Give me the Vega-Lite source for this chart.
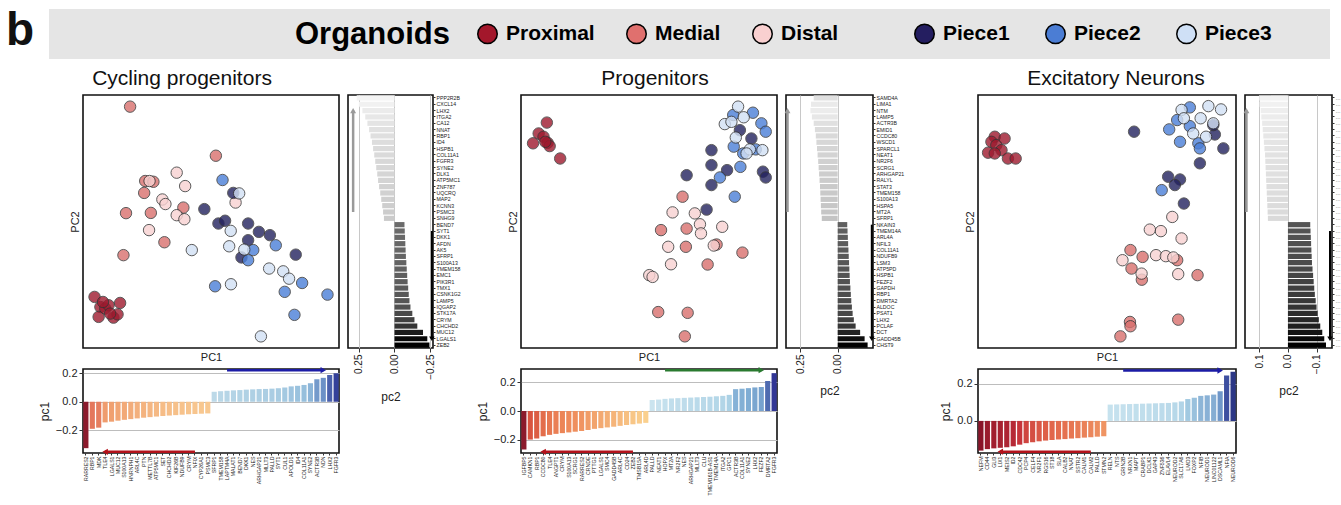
{
"$schema": "https://vega.github.io/schema/vega-lite/v6.json",
"padding": {"left": 0, "top": 8, "right": 0, "bottom": 0},
"background": "white",
"config": {
  "font": "Liberation Sans",
  "view": {"stroke": "#111", "strokeWidth": 1.6},
  "axis": {"labelColor": "#222", "titleColor": "#222", "titleFontWeight": "normal", "tickColor": "#333", "labelFont": "Liberation Sans", "titleFont": "Liberation Sans"},
  "title": {"fontSize": 21, "fontWeight": "normal", "font": "Liberation Sans", "offset": 6, "baseline": "bottom", "color": "#111", "anchor": "middle"}
},
"datasets": {
"pts": [
{"p":1,"g":"Proximal","x":0.045,"y":0.202},{"p":1,"g":"Proximal","x":0.068,"y":0.162},{"p":1,"g":"Proximal","x":0.061,"y":0.123},{"p":1,"g":"Proximal","x":0.087,"y":0.156},{"p":1,"g":"Proximal","x":0.100,"y":0.169},{"p":1,"g":"Proximal","x":0.119,"y":0.120},{"p":1,"g":"Proximal","x":0.135,"y":0.133},{"p":1,"g":"Proximal","x":0.145,"y":0.178},{"p":1,"g":"Proximal","x":0.078,"y":0.182},{"p":1,"g":"Proximal","x":0.106,"y":0.136},
{"p":1,"g":"Medial","x":0.184,"y":0.954},{"p":1,"g":"Medial","x":0.519,"y":0.760},{"p":1,"g":"Medial","x":0.243,"y":0.660},{"p":1,"g":"Medial","x":0.275,"y":0.657},{"p":1,"g":"Medial","x":0.239,"y":0.613},{"p":1,"g":"Medial","x":0.168,"y":0.533},{"p":1,"g":"Medial","x":0.265,"y":0.534},{"p":1,"g":"Medial","x":0.392,"y":0.555},{"p":1,"g":"Medial","x":0.318,"y":0.418},{"p":1,"g":"Medial","x":0.158,"y":0.367},
{"p":1,"g":"Distal","x":0.260,"y":0.660},{"p":1,"g":"Distal","x":0.366,"y":0.693},{"p":1,"g":"Distal","x":0.399,"y":0.640},{"p":1,"g":"Distal","x":0.310,"y":0.587},{"p":1,"g":"Distal","x":0.322,"y":0.569},{"p":1,"g":"Distal","x":0.366,"y":0.525},{"p":1,"g":"Distal","x":0.396,"y":0.509},{"p":1,"g":"Distal","x":0.258,"y":0.466},{"p":1,"g":"Distal","x":0.596,"y":0.575},
{"p":1,"g":"Piece1","x":0.474,"y":0.549},{"p":1,"g":"Piece1","x":0.529,"y":0.492},{"p":1,"g":"Piece1","x":0.555,"y":0.503},{"p":1,"g":"Piece1","x":0.587,"y":0.613},{"p":1,"g":"Piece1","x":0.645,"y":0.492},{"p":1,"g":"Piece1","x":0.687,"y":0.459},{"p":1,"g":"Piece1","x":0.730,"y":0.446},{"p":1,"g":"Piece1","x":0.645,"y":0.426},{"p":1,"g":"Piece1","x":0.619,"y":0.358},{"p":1,"g":"Piece1","x":0.831,"y":0.369},
{"p":1,"g":"Piece2","x":0.545,"y":0.664},{"p":1,"g":"Piece2","x":0.753,"y":0.406},{"p":1,"g":"Piece2","x":0.665,"y":0.387},{"p":1,"g":"Piece2","x":0.645,"y":0.347},{"p":1,"g":"Piece2","x":0.516,"y":0.244},{"p":1,"g":"Piece2","x":0.788,"y":0.222},{"p":1,"g":"Piece2","x":0.856,"y":0.257},{"p":1,"g":"Piece2","x":0.955,"y":0.211},{"p":1,"g":"Piece2","x":0.826,"y":0.131},
{"p":1,"g":"Piece3","x":0.610,"y":0.611},{"p":1,"g":"Piece3","x":0.577,"y":0.463},{"p":1,"g":"Piece3","x":0.571,"y":0.402},{"p":1,"g":"Piece3","x":0.425,"y":0.387},{"p":1,"g":"Piece3","x":0.630,"y":0.389},{"p":1,"g":"Piece3","x":0.727,"y":0.314},{"p":1,"g":"Piece3","x":0.782,"y":0.303},{"p":1,"g":"Piece3","x":0.805,"y":0.274},{"p":1,"g":"Piece3","x":0.578,"y":0.252},{"p":1,"g":"Piece3","x":0.695,"y":0.046},
{"p":2,"g":"Proximal","x":0.101,"y":0.891},{"p":2,"g":"Proximal","x":0.069,"y":0.848},{"p":2,"g":"Proximal","x":0.047,"y":0.809},{"p":2,"g":"Proximal","x":0.088,"y":0.835},{"p":2,"g":"Proximal","x":0.104,"y":0.811},{"p":2,"g":"Proximal","x":0.112,"y":0.798},{"p":2,"g":"Proximal","x":0.153,"y":0.749},{"p":2,"g":"Proximal","x":0.095,"y":0.815},
{"p":2,"g":"Medial","x":0.631,"y":0.598},{"p":2,"g":"Medial","x":0.547,"y":0.466},{"p":2,"g":"Medial","x":0.647,"y":0.472},{"p":2,"g":"Medial","x":0.644,"y":0.400},{"p":2,"g":"Medial","x":0.764,"y":0.409},{"p":2,"g":"Medial","x":0.865,"y":0.377},{"p":2,"g":"Medial","x":0.729,"y":0.330},{"p":2,"g":"Medial","x":0.536,"y":0.142},{"p":2,"g":"Medial","x":0.651,"y":0.139},{"p":2,"g":"Medial","x":0.640,"y":0.046},
{"p":2,"g":"Distal","x":0.592,"y":0.536},{"p":2,"g":"Distal","x":0.679,"y":0.532},{"p":2,"g":"Distal","x":0.699,"y":0.489},{"p":2,"g":"Distal","x":0.703,"y":0.453},{"p":2,"g":"Distal","x":0.786,"y":0.479},{"p":2,"g":"Distal","x":0.753,"y":0.405},{"p":2,"g":"Distal","x":0.575,"y":0.400},{"p":2,"g":"Distal","x":0.586,"y":0.331},{"p":2,"g":"Distal","x":0.501,"y":0.288},{"p":2,"g":"Distal","x":0.514,"y":0.281},
{"p":2,"g":"Piece1","x":0.744,"y":0.782},{"p":2,"g":"Piece1","x":0.744,"y":0.723},{"p":2,"g":"Piece1","x":0.805,"y":0.703},{"p":2,"g":"Piece1","x":0.647,"y":0.683},{"p":2,"g":"Piece1","x":0.744,"y":0.644},{"p":2,"g":"Piece1","x":0.855,"y":0.861},{"p":2,"g":"Piece1","x":0.900,"y":0.828},{"p":2,"g":"Piece1","x":0.945,"y":0.697},{"p":2,"g":"Piece1","x":0.956,"y":0.674},{"p":2,"g":"Piece1","x":0.725,"y":0.547},
{"p":2,"g":"Piece2","x":0.829,"y":0.921},{"p":2,"g":"Piece2","x":0.906,"y":0.930},{"p":2,"g":"Piece2","x":0.939,"y":0.888},{"p":2,"g":"Piece2","x":0.956,"y":0.855},{"p":2,"g":"Piece2","x":0.831,"y":0.796},{"p":2,"g":"Piece2","x":0.868,"y":0.769},{"p":2,"g":"Piece2","x":0.857,"y":0.716},{"p":2,"g":"Piece2","x":0.777,"y":0.674},{"p":2,"g":"Piece2","x":0.835,"y":0.598},{"p":2,"g":"Piece2","x":0.917,"y":0.785},
{"p":2,"g":"Piece3","x":0.848,"y":0.954},{"p":2,"g":"Piece3","x":0.796,"y":0.885},{"p":2,"g":"Piece3","x":0.822,"y":0.894},{"p":2,"g":"Piece3","x":0.870,"y":0.912},{"p":2,"g":"Piece3","x":0.839,"y":0.832},{"p":2,"g":"Piece3","x":0.894,"y":0.785},{"p":2,"g":"Piece3","x":0.943,"y":0.782},{"p":2,"g":"Piece3","x":0.881,"y":0.769},
{"p":3,"g":"Proximal","x":0.065,"y":0.835},{"p":3,"g":"Proximal","x":0.052,"y":0.815},{"p":3,"g":"Proximal","x":0.071,"y":0.802},{"p":3,"g":"Proximal","x":0.103,"y":0.828},{"p":3,"g":"Proximal","x":0.039,"y":0.772},{"p":3,"g":"Proximal","x":0.091,"y":0.782},{"p":3,"g":"Proximal","x":0.116,"y":0.749},{"p":3,"g":"Proximal","x":0.146,"y":0.749},{"p":3,"g":"Proximal","x":0.065,"y":0.769},
{"p":3,"g":"Medial","x":0.591,"y":0.387},{"p":3,"g":"Medial","x":0.638,"y":0.360},{"p":3,"g":"Medial","x":0.595,"y":0.314},{"p":3,"g":"Medial","x":0.635,"y":0.270},{"p":3,"g":"Medial","x":0.772,"y":0.347},{"p":3,"g":"Medial","x":0.851,"y":0.288},{"p":3,"g":"Medial","x":0.776,"y":0.112},{"p":3,"g":"Medial","x":0.589,"y":0.103},{"p":3,"g":"Medial","x":0.591,"y":0.086},{"p":3,"g":"Medial","x":0.552,"y":0.046},
{"p":3,"g":"Distal","x":0.753,"y":0.518},{"p":3,"g":"Distal","x":0.666,"y":0.468},{"p":3,"g":"Distal","x":0.709,"y":0.462},{"p":3,"g":"Distal","x":0.789,"y":0.433},{"p":3,"g":"Distal","x":0.560,"y":0.347},{"p":3,"g":"Distal","x":0.690,"y":0.367},{"p":3,"g":"Distal","x":0.728,"y":0.363},{"p":3,"g":"Distal","x":0.757,"y":0.358},{"p":3,"g":"Distal","x":0.634,"y":0.294},{"p":3,"g":"Distal","x":0.776,"y":0.292},
{"p":3,"g":"Piece1","x":0.605,"y":0.855},{"p":3,"g":"Piece1","x":0.918,"y":0.844},{"p":3,"g":"Piece1","x":0.951,"y":0.789},{"p":3,"g":"Piece1","x":0.860,"y":0.730},{"p":3,"g":"Piece1","x":0.737,"y":0.677},{"p":3,"g":"Piece1","x":0.783,"y":0.666},{"p":3,"g":"Piece1","x":0.763,"y":0.644},{"p":3,"g":"Piece1","x":0.798,"y":0.571},{"p":3,"g":"Piece1","x":0.912,"y":0.881},
{"p":3,"g":"Piece2","x":0.821,"y":0.951},{"p":3,"g":"Piece2","x":0.741,"y":0.864},{"p":3,"g":"Piece2","x":0.783,"y":0.815},{"p":3,"g":"Piece2","x":0.854,"y":0.809},{"p":3,"g":"Piece2","x":0.860,"y":0.789},{"p":3,"g":"Piece2","x":0.712,"y":0.624},{"p":3,"g":"Piece2","x":0.821,"y":0.877},{"p":3,"g":"Piece2","x":0.772,"y":0.901},
{"p":3,"g":"Piece3","x":0.789,"y":0.941},{"p":3,"g":"Piece3","x":0.893,"y":0.956},{"p":3,"g":"Piece3","x":0.942,"y":0.943},{"p":3,"g":"Piece3","x":0.912,"y":0.888},{"p":3,"g":"Piece3","x":0.863,"y":0.908},{"p":3,"g":"Piece3","x":0.834,"y":0.848},{"p":3,"g":"Piece3","x":0.884,"y":0.835},{"p":3,"g":"Piece3","x":0.798,"y":0.908}
],
"pc1": [
{"p":1,"gene":"RARRES2","v":-0.326},{"p":1,"gene":"RBP1","v":-0.19},{"p":1,"gene":"MDK","v":-0.182},{"p":1,"gene":"TLE4","v":-0.145},{"p":1,"gene":"LGALS1","v":-0.14},{"p":1,"gene":"MUC12","v":-0.133},{"p":1,"gene":"S100A13","v":-0.127},{"p":1,"gene":"HNRNPH1","v":-0.122},{"p":1,"gene":"ARL4C","v":-0.117},{"p":1,"gene":"PTN","v":-0.112},{"p":1,"gene":"METTL7B","v":-0.108},{"p":1,"gene":"ATP5MC1","v":-0.104},{"p":1,"gene":"SET","v":-0.1},{"p":1,"gene":"CHCHD2","v":-0.097},{"p":1,"gene":"KIF26B","v":-0.094},{"p":1,"gene":"NDUFB9","v":-0.091},{"p":1,"gene":"CRYM","v":-0.088},{"p":1,"gene":"NFIX","v":-0.086},{"p":1,"gene":"CYP26A1","v":-0.084},{"p":1,"gene":"PSMC3","v":-0.082},
{"p":1,"gene":"SFRP1","v":0.07},{"p":1,"gene":"TMEM158","v":0.074},{"p":1,"gene":"LAPTM4A","v":0.077},{"p":1,"gene":"MALAT1","v":0.08},{"p":1,"gene":"BEND7","v":0.082},{"p":1,"gene":"DKK1","v":0.085},{"p":1,"gene":"NES","v":0.087},{"p":1,"gene":"ARHGAP21","v":0.089},{"p":1,"gene":"MLLT3","v":0.09},{"p":1,"gene":"PALLD","v":0.092},{"p":1,"gene":"SYT1","v":0.095},{"p":1,"gene":"CUL1","v":0.1},{"p":1,"gene":"APOLD1","v":0.108},{"p":1,"gene":"ID4","v":0.112},{"p":1,"gene":"COL11A1","v":0.118},{"p":1,"gene":"SYNE2","v":0.13},{"p":1,"gene":"ACTR3B","v":0.158},{"p":1,"gene":"NDN","v":0.168},{"p":1,"gene":"LHX2","v":0.188},{"p":1,"gene":"FGFR3","v":0.2},
{"p":2,"gene":"IGFBP5","v":-0.27},{"p":2,"gene":"CAMKN1","v":-0.2},{"p":2,"gene":"RBP1","v":-0.192},{"p":2,"gene":"CCDC80","v":-0.177},{"p":2,"gene":"TLE4","v":-0.167},{"p":2,"gene":"ANGPT1","v":-0.16},{"p":2,"gene":"CRYM","v":-0.155},{"p":2,"gene":"S100A13","v":-0.15},{"p":2,"gene":"SCRG1","v":-0.145},{"p":2,"gene":"RARRES2","v":-0.14},{"p":2,"gene":"CRNDE","v":-0.133},{"p":2,"gene":"PTTG1","v":-0.125},{"p":2,"gene":"LGALS1","v":-0.12},{"p":2,"gene":"SMC4","v":-0.115},{"p":2,"gene":"GADD45B","v":-0.11},{"p":2,"gene":"ARL4C","v":-0.104},{"p":2,"gene":"CD24","v":-0.098},{"p":2,"gene":"ZEB2","v":-0.093},{"p":2,"gene":"TMSB15A","v":-0.088},{"p":2,"gene":"ARL4D","v":-0.083},
{"p":2,"gene":"PALLD","v":0.077},{"p":2,"gene":"NEAT1","v":0.08},{"p":2,"gene":"HOPX","v":0.085},{"p":2,"gene":"MT2A","v":0.088},{"p":2,"gene":"NR2F2","v":0.09},{"p":2,"gene":"NES","v":0.092},{"p":2,"gene":"ARHGAP21","v":0.094},{"p":2,"gene":"MLLT3","v":0.096},{"p":2,"gene":"CLU","v":0.098},{"p":2,"gene":"TMEM161B-AS1","v":0.1},{"p":2,"gene":"TMEM14A","v":0.103},{"p":2,"gene":"ITGA2","v":0.106},{"p":2,"gene":"GPC1","v":0.113},{"p":2,"gene":"ACTR3B","v":0.153},{"p":2,"gene":"COL11A1","v":0.156},{"p":2,"gene":"SYNE2","v":0.16},{"p":2,"gene":"LHX2","v":0.165},{"p":2,"gene":"FEZF2","v":0.168},{"p":2,"gene":"DMRTA2","v":0.21},{"p":2,"gene":"FGFR3","v":0.265},
{"p":3,"gene":"NEFM","v":-0.16},{"p":3,"gene":"CD44","v":-0.152},{"p":3,"gene":"GLI3","v":-0.148},{"p":3,"gene":"LIX1","v":-0.145},{"p":3,"gene":"MEIS2","v":-0.142},{"p":3,"gene":"ID2","v":-0.137},{"p":3,"gene":"CDC42","v":-0.128},{"p":3,"gene":"PCP4","v":-0.12},{"p":3,"gene":"CELF4","v":-0.115},{"p":3,"gene":"NR2F1","v":-0.11},{"p":3,"gene":"RGS16","v":-0.106},{"p":3,"gene":"ST18","v":-0.103},{"p":3,"gene":"SLA","v":-0.1},{"p":3,"gene":"CALB2","v":-0.098},{"p":3,"gene":"NNAT","v":-0.095},{"p":3,"gene":"SSTR2","v":-0.093},{"p":3,"gene":"CALM1","v":-0.09},{"p":3,"gene":"CALM2","v":-0.088},{"p":3,"gene":"PALLD","v":-0.085},{"p":3,"gene":"STMN2","v":-0.082},
{"p":3,"gene":"RELN","v":0.088},{"p":3,"gene":"NTS","v":0.089},{"p":3,"gene":"GRIN2B","v":0.09},{"p":3,"gene":"NRXN1","v":0.091},{"p":3,"gene":"MAPT","v":0.092},{"p":3,"gene":"CRABP1","v":0.093},{"p":3,"gene":"DCLK1","v":0.094},{"p":3,"gene":"GAP43","v":0.095},{"p":3,"gene":"ZNF536","v":0.096},{"p":3,"gene":"ELAVL4","v":0.097},{"p":3,"gene":"NEUROD2","v":0.1},{"p":3,"gene":"SLC17A6","v":0.105},{"p":3,"gene":"LMO3","v":0.118},{"p":3,"gene":"FOXP2","v":0.125},{"p":3,"gene":"NFIB","v":0.135},{"p":3,"gene":"NEUROD1","v":0.138},{"p":3,"gene":"LINC01122","v":0.142},{"p":3,"gene":"DSCAML1","v":0.16},{"p":3,"gene":"NFIA","v":0.245},{"p":3,"gene":"NEUROD6","v":0.265}
],
"pc2": [
{"p":1,"gene":"PPP2R2B","v":0.265},{"p":1,"gene":"CXCL14","v":0.25},{"p":1,"gene":"LHX2","v":0.225},{"p":1,"gene":"ITGA2","v":0.205},{"p":1,"gene":"CA12","v":0.19},{"p":1,"gene":"NNAT","v":0.178},{"p":1,"gene":"RBP1","v":0.168},{"p":1,"gene":"ID4","v":0.158},{"p":1,"gene":"HSPB1","v":0.15},{"p":1,"gene":"COL11A1","v":0.142},{"p":1,"gene":"FGFR3","v":0.135},{"p":1,"gene":"SYNE2","v":0.128},{"p":1,"gene":"DLK1","v":0.121},{"p":1,"gene":"ATP5MC1","v":0.115},{"p":1,"gene":"ZNF787","v":0.108},{"p":1,"gene":"UQCRQ","v":0.1},{"p":1,"gene":"MAP2","v":0.093},{"p":1,"gene":"KCNN3","v":0.086},{"p":1,"gene":"PSMC3","v":0.08},{"p":1,"gene":"SNHG9","v":0.074},
{"p":1,"gene":"BEND7","v":-0.07},{"p":1,"gene":"SYT1","v":-0.072},{"p":1,"gene":"DKK1","v":-0.074},{"p":1,"gene":"AFDN","v":-0.076},{"p":1,"gene":"AK5","v":-0.078},{"p":1,"gene":"SFRP1","v":-0.08},{"p":1,"gene":"S100A13","v":-0.083},{"p":1,"gene":"TMEM158","v":-0.086},{"p":1,"gene":"EMC1","v":-0.089},{"p":1,"gene":"PIK3R1","v":-0.092},{"p":1,"gene":"TMX1","v":-0.096},{"p":1,"gene":"CSNK1G2","v":-0.1},{"p":1,"gene":"LAMP5","v":-0.105},{"p":1,"gene":"IQGAP2","v":-0.112},{"p":1,"gene":"STK17A","v":-0.125},{"p":1,"gene":"CRYM","v":-0.14},{"p":1,"gene":"CHCHD2","v":-0.16},{"p":1,"gene":"MUC12","v":-0.2},{"p":1,"gene":"LGALS1","v":-0.23},{"p":1,"gene":"ZEB2","v":-0.245},
{"p":2,"gene":"SAMD4A","v":0.16},{"p":2,"gene":"LIMA1","v":0.178},{"p":2,"gene":"NTM","v":0.182},{"p":2,"gene":"LAMP5","v":0.172},{"p":2,"gene":"ACTR3B","v":0.16},{"p":2,"gene":"EMID1","v":0.152},{"p":2,"gene":"CCDC80","v":0.146},{"p":2,"gene":"WSCD1","v":0.142},{"p":2,"gene":"SPARCL1","v":0.138},{"p":2,"gene":"NEAT1","v":0.134},{"p":2,"gene":"NR2F6","v":0.13},{"p":2,"gene":"SCRG1","v":0.127},{"p":2,"gene":"ARHGAP21","v":0.124},{"p":2,"gene":"RALYL","v":0.121},{"p":2,"gene":"STAT3","v":0.118},{"p":2,"gene":"TMEM158","v":0.116},{"p":2,"gene":"S100A13","v":0.114},{"p":2,"gene":"HSPA5","v":0.112},{"p":2,"gene":"MT2A","v":0.11},{"p":2,"gene":"SFRP1","v":0.106},
{"p":2,"gene":"NKAIN3","v":-0.064},{"p":2,"gene":"TMEM14A","v":-0.066},{"p":2,"gene":"ARL4A","v":-0.068},{"p":2,"gene":"NFIL3","v":-0.07},{"p":2,"gene":"COL11A1","v":-0.072},{"p":2,"gene":"NDUFB9","v":-0.074},{"p":2,"gene":"LSM3","v":-0.076},{"p":2,"gene":"ATP5PD","v":-0.078},{"p":2,"gene":"HSPB1","v":-0.08},{"p":2,"gene":"FEZF2","v":-0.082},{"p":2,"gene":"GAPDH","v":-0.085},{"p":2,"gene":"RBP1","v":-0.088},{"p":2,"gene":"DMRTA2","v":-0.091},{"p":2,"gene":"ALDOC","v":-0.095},{"p":2,"gene":"PSAT1","v":-0.1},{"p":2,"gene":"LHX2","v":-0.108},{"p":2,"gene":"PCLAF","v":-0.12},{"p":2,"gene":"DCT","v":-0.15},{"p":2,"gene":"GADD45B","v":-0.18},{"p":2,"gene":"CHST9","v":-0.2},
{"p":3,"gene":"UNC5D","v":0.1},{"p":3,"gene":"OLFM1","v":0.099},{"p":3,"gene":"MEF2C","v":0.095},{"p":3,"gene":"UCHL1","v":0.093},{"p":3,"gene":"NRN1","v":0.09},{"p":3,"gene":"FABP7","v":0.088},{"p":3,"gene":"SFRP1","v":0.086},{"p":3,"gene":"MAP1B","v":0.084},{"p":3,"gene":"KCNQ2","v":0.082},{"p":3,"gene":"HES5","v":0.08},{"p":3,"gene":"GNG3","v":0.079},{"p":3,"gene":"GAP43","v":0.078},{"p":3,"gene":"OPCML","v":0.077},{"p":3,"gene":"DCX","v":0.076},{"p":3,"gene":"SYT4","v":0.075},{"p":3,"gene":"RTN1","v":0.074},{"p":3,"gene":"PTPRZ1","v":0.073},{"p":3,"gene":"EDNRB","v":0.072},{"p":3,"gene":"SOX2","v":0.071},{"p":3,"gene":"CNTN2","v":0.07},
{"p":3,"gene":"VIM","v":-0.078},{"p":3,"gene":"PEA15","v":-0.079},{"p":3,"gene":"SLC1A3","v":-0.08},{"p":3,"gene":"MDK","v":-0.081},{"p":3,"gene":"TTYH1","v":-0.082},{"p":3,"gene":"GPM6B","v":-0.083},{"p":3,"gene":"CLU","v":-0.084},{"p":3,"gene":"FOS","v":-0.086},{"p":3,"gene":"NNAT","v":-0.088},{"p":3,"gene":"RBP1","v":-0.09},{"p":3,"gene":"TSC22D4","v":-0.092},{"p":3,"gene":"NUCKS1","v":-0.094},{"p":3,"gene":"PTN","v":-0.097},{"p":3,"gene":"SPARCL1","v":-0.1},{"p":3,"gene":"CRYAB","v":-0.104},{"p":3,"gene":"HOPX","v":-0.108},{"p":3,"gene":"MT3","v":-0.113},{"p":3,"gene":"ID4","v":-0.12},{"p":3,"gene":"IGFBP2","v":-0.127},{"p":3,"gene":"BCAN","v":-0.133}
]
},
"resolve": {"scale": {"color": "independent", "fill": "independent"}},
"vconcat": [
 {
  "hconcat": [
   {"width": 40, "height": 50, "view": {"stroke": null},
    "data": {"values": [{"t": "b"}]},
    "mark": {"type": "text", "fontSize": 46, "fontWeight": "bold", "font": "Liberation Sans", "align": "center", "baseline": "middle", "dy": -3, "color": "#111"},
    "encoding": {"text": {"field": "t", "type": "nominal"}}},
   {"width": 1281, "height": 50, "view": {"fill": "#e5e5e5", "stroke": null},
    "layer": [
     {"data": {"values": []},
      "mark": {"type": "point", "filled": true, "stroke": "black", "strokeWidth": 1.5},
      "encoding": {"color": {"field": "g", "type": "nominal",
        "scale": {"domain": ["Proximal", "Medial", "Distal"], "range": ["#a3172b", "#e0706e", "#f9d0d0"]},
        "legend": {"orient": "none", "legendX": 295, "legendY": 14, "direction": "horizontal", "title": "Organoids", "titleOrient": "left", "titleFontSize": 31, "titleFontWeight": "bold", "titleFont": "Liberation Sans", "titleColor": "#000", "titlePadding": 26, "titleAnchor": "middle", "titleBaseline": "middle", "labelFontSize": 21, "labelFontWeight": "bold", "labelFont": "Liberation Sans", "labelColor": "#000", "symbolSize": 380, "symbolType": "circle", "symbolStrokeColor": "#000", "symbolStrokeWidth": 1.5, "symbolOpacity": 1, "labelOffset": 8, "columnPadding": 28, "padding": 0, "labelLimit": 300}}}},
     {"data": {"values": []},
      "mark": {"type": "point", "filled": true, "stroke": "black", "strokeWidth": 1.5},
      "encoding": {"fill": {"field": "g", "type": "nominal",
        "scale": {"domain": ["Piece1", "Piece2", "Piece3"], "range": ["#241e60", "#4b7dd4", "#cfe0f6"]},
        "legend": {"orient": "none", "legendX": 914, "legendY": 14, "direction": "horizontal", "title": null, "labelFontSize": 21, "labelFontWeight": "bold", "labelFont": "Liberation Sans", "labelColor": "#000", "symbolSize": 380, "symbolType": "circle", "symbolStrokeColor": "#000", "symbolStrokeWidth": 1.5, "symbolOpacity": 1, "labelOffset": 8, "columnPadding": 32, "padding": 0, "labelLimit": 300}}}}
    ]}
  ],
  "spacing": 9
 },
 {
  "columns": 9,
  "align": "each",
  "bounds": "flush",
  "spacing": {"row": 21, "column": 9},
  "resolve": {"scale": {"color": "independent", "fill": "independent"}},
  "concat": [
   {"width": 74, "height": 253, "view": {"stroke": null}, "data": {"values": []}, "mark": "point", "encoding": {}},
   {"width": 256, "height": 253, "title": {"text": "Cycling progenitors", "dx": -29},
    "data": {"name": "pts"}, "transform": [{"filter": "datum.p == 1"}],
    "mark": {"type": "point", "filled": true, "size": 130, "stroke": "#333", "strokeWidth": 1, "opacity": 0.8},
    "encoding": {
     "x": {"field": "x", "type": "quantitative", "scale": {"domain": [0, 1], "nice": false}, "axis": {"title": "PC1", "ticks": false, "labels": false, "domain": false, "grid": false, "titleFontSize": 11, "titlePadding": 3}},
     "y": {"field": "y", "type": "quantitative", "scale": {"domain": [0, 1], "nice": false}, "axis": {"title": "PC2", "ticks": false, "labels": false, "domain": false, "grid": false, "titleFontSize": 11, "titlePadding": 3}},
     "fill": {"field": "g", "type": "nominal", "scale": {"domain": ["Proximal", "Medial", "Distal", "Piece1", "Piece2", "Piece3"], "range": ["#9e1a2e", "#d9706e", "#f8d2d2", "#23225e", "#4b7fd8", "#d2e0f4"]}, "legend": null}}},
   {"width": 85, "height": 253,
    "layer": [
     {"data": {"name": "pc2"}, "transform": [{"filter": "datum.p == 1"}],
      "mark": {"type": "bar"},
      "encoding": {
       "y": {"field": "gene", "type": "nominal", "sort": null, "scale": {"paddingInner": 0.18, "paddingOuter": 0.05}, "axis": {"orient": "right", "title": null, "labelFontSize": 5.2, "tickSize": 2, "labelPadding": 1, "domain": false}},
       "x": {"field": "v", "type": "quantitative", "scale": {"domain": [-0.27, 0.326], "reverse": true, "nice": false}, "axis": {"title": "pc2", "values": [0.25, 0, -0.25], "format": ".2f", "labelAngle": 270, "labelFontSize": 10, "titleFontSize": 12, "grid": true, "gridColor": "#c8c8c8", "domain": false, "tickSize": 4, "titlePadding": 12}},
       "color": {"field": "v", "type": "quantitative", "scale": {"domain": [-0.245, -0.07, 0.074, 0.265], "range": ["#000000", "#6b6b6b", "#cbcbcb", "#f4f4f4"], "interpolate": "rgb"}, "legend": null}}},
     {"data": {"values": [{"a": "LHX2", "b": "PSMC3"}]},
      "layer": [
       {"mark": {"type": "rule", "color": "#9a9a9a", "strokeWidth": 2.5}, "encoding": {"y": {"field": "a", "type": "nominal", "sort": null}, "y2": {"field": "b"}, "x": {"datum": 0.29}}},
       {"mark": {"type": "point", "shape": "triangle-up", "filled": true, "color": "#9a9a9a", "size": 35, "opacity": 1}, "encoding": {"y": {"field": "a", "type": "nominal", "sort": null}, "x": {"datum": 0.29}}}]},
     {"data": {"values": [{"a": "SYT1", "b": "LGALS1"}]},
      "layer": [
       {"mark": {"type": "rule", "color": "#000", "strokeWidth": 2}, "encoding": {"y": {"field": "a", "type": "nominal", "sort": null}, "y2": {"field": "b"}, "x": {"datum": -0.262}}},
       {"mark": {"type": "point", "shape": "triangle-down", "filled": true, "color": "#000", "size": 30, "opacity": 1}, "encoding": {"y": {"field": "b", "type": "nominal", "sort": null}, "x": {"datum": -0.262}}}]}
    ]},
   {"width": 70, "height": 253, "view": {"stroke": null}, "data": {"values": []}, "mark": "point", "encoding": {}},
   {"width": 256, "height": 253, "title": {"text": "Progenitors", "dx": 6},
    "data": {"name": "pts"}, "transform": [{"filter": "datum.p == 2"}],
    "mark": {"type": "point", "filled": true, "size": 130, "stroke": "#333", "strokeWidth": 1, "opacity": 0.8},
    "encoding": {
     "x": {"field": "x", "type": "quantitative", "scale": {"domain": [0, 1], "nice": false}, "axis": {"title": "PC1", "ticks": false, "labels": false, "domain": false, "grid": false, "titleFontSize": 11, "titlePadding": 3}},
     "y": {"field": "y", "type": "quantitative", "scale": {"domain": [0, 1], "nice": false}, "axis": {"title": "PC2", "ticks": false, "labels": false, "domain": false, "grid": false, "titleFontSize": 11, "titlePadding": 3}},
     "fill": {"field": "g", "type": "nominal", "scale": {"domain": ["Proximal", "Medial", "Distal", "Piece1", "Piece2", "Piece3"], "range": ["#9e1a2e", "#d9706e", "#f8d2d2", "#23225e", "#4b7fd8", "#d2e0f4"]}, "legend": null}}},
   {"width": 87, "height": 253,
    "layer": [
     {"data": {"name": "pc2"}, "transform": [{"filter": "datum.p == 2"}],
      "mark": {"type": "bar"},
      "encoding": {
       "y": {"field": "gene", "type": "nominal", "sort": null, "scale": {"paddingInner": 0.18, "paddingOuter": 0.05}, "axis": {"orient": "right", "title": null, "labelFontSize": 5.2, "tickSize": 2, "labelPadding": 1, "domain": false}},
       "x": {"field": "v", "type": "quantitative", "scale": {"domain": [-0.236, 0.345], "reverse": true, "nice": false}, "axis": {"title": "pc2", "values": [0.25, 0], "format": ".2f", "labelAngle": 270, "labelFontSize": 10, "titleFontSize": 12, "grid": true, "gridColor": "#c8c8c8", "domain": false, "tickSize": 4, "titlePadding": 12}},
       "color": {"field": "v", "type": "quantitative", "scale": {"domain": [-0.2, -0.064, 0.106, 0.182], "range": ["#000000", "#606060", "#c4c4c4", "#ececec"], "interpolate": "rgb"}, "legend": null}}},
     {"data": {"values": [{"a": "NTM", "b": "MT2A"}]},
      "layer": [
       {"mark": {"type": "rule", "color": "#9a9a9a", "strokeWidth": 2.5}, "encoding": {"y": {"field": "a", "type": "nominal", "sort": null}, "y2": {"field": "b"}, "x": {"datum": 0.335}}},
       {"mark": {"type": "point", "shape": "triangle-up", "filled": true, "color": "#9a9a9a", "size": 35, "opacity": 1}, "encoding": {"y": {"field": "a", "type": "nominal", "sort": null}, "x": {"datum": 0.335}}}]},
     {"data": {"values": [{"a": "NKAIN3", "b": "GADD45B"}]},
      "layer": [
       {"mark": {"type": "rule", "color": "#000", "strokeWidth": 2}, "encoding": {"y": {"field": "a", "type": "nominal", "sort": null}, "y2": {"field": "b"}, "x": {"datum": -0.228}}},
       {"mark": {"type": "point", "shape": "triangle-down", "filled": true, "color": "#000", "size": 30, "opacity": 1}, "encoding": {"y": {"field": "b", "type": "nominal", "sort": null}, "x": {"datum": -0.228}}}]}
    ]},
   {"width": 87, "height": 253, "view": {"stroke": null}, "data": {"values": []}, "mark": "point", "encoding": {}},
   {"width": 258, "height": 253, "title": {"text": "Excitatory Neurons", "dx": 9},
    "data": {"name": "pts"}, "transform": [{"filter": "datum.p == 3"}],
    "mark": {"type": "point", "filled": true, "size": 130, "stroke": "#333", "strokeWidth": 1, "opacity": 0.8},
    "encoding": {
     "x": {"field": "x", "type": "quantitative", "scale": {"domain": [0, 1], "nice": false}, "axis": {"title": "PC1", "ticks": false, "labels": false, "domain": false, "grid": false, "titleFontSize": 11, "titlePadding": 3}},
     "y": {"field": "y", "type": "quantitative", "scale": {"domain": [0, 1], "nice": false}, "axis": {"title": "PC2", "ticks": false, "labels": false, "domain": false, "grid": false, "titleFontSize": 11, "titlePadding": 3}},
     "fill": {"field": "g", "type": "nominal", "scale": {"domain": ["Proximal", "Medial", "Distal", "Piece1", "Piece2", "Piece3"], "range": ["#9e1a2e", "#d9706e", "#f8d2d2", "#23225e", "#4b7fd8", "#d2e0f4"]}, "legend": null}}},
   {"width": 87, "height": 253,
    "layer": [
     {"data": {"name": "pc2"}, "transform": [{"filter": "datum.p == 3"}],
      "mark": {"type": "bar"},
      "encoding": {
       "y": {"field": "gene", "type": "nominal", "sort": null, "scale": {"paddingInner": 0.18, "paddingOuter": 0.05}, "axis": {"orient": "right", "title": null, "labelFontSize": 5.2, "tickSize": 2, "labelPadding": 1, "domain": false, "labelLimit": 5}},
       "x": {"field": "v", "type": "quantitative", "scale": {"domain": [-0.154, 0.15], "reverse": true, "nice": false}, "axis": {"title": "pc2", "values": [0.1, 0, -0.1], "format": ".1f", "labelAngle": 270, "labelFontSize": 10, "titleFontSize": 12, "grid": true, "gridColor": "#c8c8c8", "domain": false, "tickSize": 4, "titlePadding": 12}},
       "color": {"field": "v", "type": "quantitative", "scale": {"domain": [-0.133, -0.078, 0.07, 0.1], "range": ["#000000", "#555555", "#dadada", "#f2f2f2"], "interpolate": "rgb"}, "legend": null}}},
     {"data": {"values": [{"a": "MEF2C", "b": "SOX2"}]},
      "layer": [
       {"mark": {"type": "rule", "color": "#9a9a9a", "strokeWidth": 2.5}, "encoding": {"y": {"field": "a", "type": "nominal", "sort": null}, "y2": {"field": "b"}, "x": {"datum": 0.145}}},
       {"mark": {"type": "point", "shape": "triangle-up", "filled": true, "color": "#9a9a9a", "size": 35, "opacity": 1}, "encoding": {"y": {"field": "a", "type": "nominal", "sort": null}, "x": {"datum": 0.145}}}]},
     {"data": {"values": [{"a": "PEA15", "b": "IGFBP2"}]},
      "layer": [
       {"mark": {"type": "rule", "color": "#000", "strokeWidth": 2}, "encoding": {"y": {"field": "a", "type": "nominal", "sort": null}, "y2": {"field": "b"}, "x": {"datum": -0.147}}},
       {"mark": {"type": "point", "shape": "triangle-down", "filled": true, "color": "#000", "size": 30, "opacity": 1}, "encoding": {"y": {"field": "b", "type": "nominal", "sort": null}, "x": {"datum": -0.147}}}]}
    ]},
   {"width": 10, "height": 10, "view": {"stroke": null}, "data": {"values": []}, "mark": "point", "encoding": {}},
   {"width": 256, "height": 84,
    "layer": [
     {"data": {"name": "pc1"}, "transform": [{"filter": "datum.p == 1"}],
      "mark": {"type": "bar"},
      "encoding": {
       "x": {"field": "gene", "type": "nominal", "sort": null, "scale": {"paddingInner": 0.2, "paddingOuter": 0.05}, "axis": {"title": null, "labelAngle": 270, "labelFontSize": 5.2, "tickSize": 2, "labelPadding": 1, "domain": false}},
       "y": {"field": "v", "type": "quantitative", "scale": {"domain": [-0.36, 0.23], "nice": false}, "axis": {"title": "pc1", "values": [-0.2, 0, 0.2], "format": ".1f", "grid": true, "gridColor": "#bdbdbd", "labelFontSize": 11, "titleFontSize": 12, "domain": false, "tickSize": 4}},
       "color": {"field": "v", "type": "quantitative", "scale": {"domain": [-0.326, -0.19, -0.14, -0.082, 0, 0.07, 0.12, 0.17, 0.2], "range": ["#8c1a2c", "#e4775c", "#f0a070", "#f8c890", "#f7f7f7", "#bcd9e8", "#94bedc", "#6a8fc6", "#34409a"], "interpolate": "rgb"}, "legend": null}}},
     {"data": {"values": [{"a": "LAPTM4A", "b": "NDN"}]},
      "layer": [
       {"mark": {"type": "rule", "color": "#1c1ca6", "strokeWidth": 2.5}, "encoding": {"x": {"field": "a", "type": "nominal", "sort": null}, "x2": {"field": "b"}, "y": {"datum": 0.222}}},
       {"mark": {"type": "point", "shape": "triangle-right", "filled": true, "color": "#1c1ca6", "size": 40, "opacity": 1}, "encoding": {"x": {"field": "b", "type": "nominal", "sort": null}, "y": {"datum": 0.222}}}]},
     {"data": {"values": [{"a": "TLE4", "b": "NFIX"}]},
      "layer": [
       {"mark": {"type": "rule", "color": "#b3121b", "strokeWidth": 2.5}, "encoding": {"x": {"field": "a", "type": "nominal", "sort": null}, "x2": {"field": "b"}, "y": {"datum": -0.352}}},
       {"mark": {"type": "point", "shape": "triangle-left", "filled": true, "color": "#b3121b", "size": 40, "opacity": 1}, "encoding": {"x": {"field": "a", "type": "nominal", "sort": null}, "y": {"datum": -0.352}}}]}
    ]},
   {"width": 10, "height": 10, "view": {"stroke": null}, "data": {"values": []}, "mark": "point", "encoding": {}},
   {"width": 10, "height": 10, "view": {"stroke": null}, "data": {"values": []}, "mark": "point", "encoding": {}},
   {"width": 256, "height": 84,
    "layer": [
     {"data": {"name": "pc1"}, "transform": [{"filter": "datum.p == 2"}],
      "mark": {"type": "bar"},
      "encoding": {
       "x": {"field": "gene", "type": "nominal", "sort": null, "scale": {"paddingInner": 0.2, "paddingOuter": 0.05}, "axis": {"title": null, "labelAngle": 270, "labelFontSize": 5.2, "tickSize": 2, "labelPadding": 1, "domain": false}},
       "y": {"field": "v", "type": "quantitative", "scale": {"domain": [-0.294, 0.294], "nice": false}, "axis": {"title": "pc1", "values": [-0.2, 0, 0.2], "format": ".1f", "grid": true, "gridColor": "#bdbdbd", "labelFontSize": 11, "titleFontSize": 12, "domain": false, "tickSize": 4}},
       "color": {"field": "v", "type": "quantitative", "scale": {"domain": [-0.27, -0.2, -0.15, -0.083, 0, 0.077, 0.11, 0.16, 0.21, 0.265], "range": ["#8c1a2c", "#d9543f", "#ee8a5a", "#fad08e", "#f7f7f7", "#cbe4ef", "#aed3e6", "#7fadd4", "#4f6bb0", "#313695"], "interpolate": "rgb"}, "legend": null}}},
     {"data": {"values": [{"a": "HOPX", "b": "FEZF2"}]},
      "layer": [
       {"mark": {"type": "rule", "color": "#2a7a30", "strokeWidth": 2.5}, "encoding": {"x": {"field": "a", "type": "nominal", "sort": null}, "x2": {"field": "b"}, "y": {"datum": 0.286}}},
       {"mark": {"type": "point", "shape": "triangle-right", "filled": true, "color": "#2a7a30", "size": 40, "opacity": 1}, "encoding": {"x": {"field": "b", "type": "nominal", "sort": null}, "y": {"datum": 0.286}}}]},
     {"data": {"values": [{"a": "CCDC80", "b": "ZEB2"}]},
      "layer": [
       {"mark": {"type": "rule", "color": "#b3121b", "strokeWidth": 2.5}, "encoding": {"x": {"field": "a", "type": "nominal", "sort": null}, "x2": {"field": "b"}, "y": {"datum": -0.286}}},
       {"mark": {"type": "point", "shape": "triangle-left", "filled": true, "color": "#b3121b", "size": 40, "opacity": 1}, "encoding": {"x": {"field": "a", "type": "nominal", "sort": null}, "y": {"datum": -0.286}}}]}
    ]},
   {"width": 10, "height": 10, "view": {"stroke": null}, "data": {"values": []}, "mark": "point", "encoding": {}},
   {"width": 10, "height": 10, "view": {"stroke": null}, "data": {"values": []}, "mark": "point", "encoding": {}},
   {"width": 258, "height": 84,
    "layer": [
     {"data": {"name": "pc1"}, "transform": [{"filter": "datum.p == 3"}],
      "mark": {"type": "bar"},
      "encoding": {
       "x": {"field": "gene", "type": "nominal", "sort": null, "scale": {"paddingInner": 0.2, "paddingOuter": 0.05}, "axis": {"title": null, "labelAngle": 270, "labelFontSize": 5.2, "tickSize": 2, "labelPadding": 1, "domain": false}},
       "y": {"field": "v", "type": "quantitative", "scale": {"domain": [-0.173, 0.28], "nice": false}, "axis": {"title": "pc1", "values": [0, 0.2], "format": ".1f", "grid": true, "gridColor": "#bdbdbd", "labelFontSize": 11, "titleFontSize": 12, "domain": false, "tickSize": 4}},
       "color": {"field": "v", "type": "quantitative", "scale": {"domain": [-0.16, -0.13, -0.1, -0.082, 0, 0.088, 0.12, 0.16, 0.245, 0.265], "range": ["#8a1328", "#c4303a", "#e46b4c", "#ef9463", "#f7f7f7", "#c6e2ee", "#9fc7e0", "#6f97c9", "#3d4fa0", "#2c3786"], "interpolate": "rgb"}, "legend": null}}},
     {"data": {"values": [{"a": "GRIN2B", "b": "DSCAML1"}]},
      "layer": [
       {"mark": {"type": "rule", "color": "#1c1ca6", "strokeWidth": 2.5}, "encoding": {"x": {"field": "a", "type": "nominal", "sort": null}, "x2": {"field": "b"}, "y": {"datum": 0.272}}},
       {"mark": {"type": "point", "shape": "triangle-right", "filled": true, "color": "#1c1ca6", "size": 40, "opacity": 1}, "encoding": {"x": {"field": "b", "type": "nominal", "sort": null}, "y": {"datum": 0.272}}}]},
     {"data": {"values": [{"a": "LIX1", "b": "CALM2"}]},
      "layer": [
       {"mark": {"type": "rule", "color": "#b3121b", "strokeWidth": 2.5}, "encoding": {"x": {"field": "a", "type": "nominal", "sort": null}, "x2": {"field": "b"}, "y": {"datum": -0.166}}},
       {"mark": {"type": "point", "shape": "triangle-left", "filled": true, "color": "#b3121b", "size": 40, "opacity": 1}, "encoding": {"x": {"field": "a", "type": "nominal", "sort": null}, "y": {"datum": -0.166}}}]}
    ]},
   {"width": 10, "height": 10, "view": {"stroke": null}, "data": {"values": []}, "mark": "point", "encoding": {}}
  ]
 }
],
"spacing": 8
}
